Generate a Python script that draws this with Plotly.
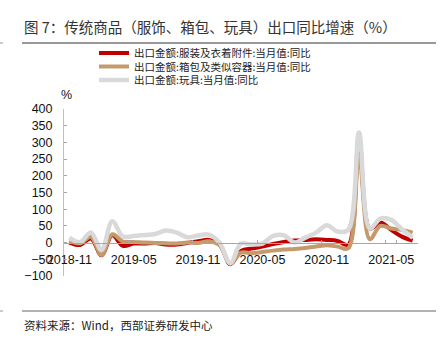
import plotly.graph_objects as go

months = ["2018-11", "2018-12", "2019-01", "2019-02", "2019-03", "2019-04", "2019-05",
          "2019-06", "2019-07", "2019-08", "2019-09", "2019-10", "2019-11", "2019-12",
          "2020-01", "2020-02", "2020-03", "2020-04", "2020-05", "2020-06", "2020-07",
          "2020-08", "2020-09", "2020-10", "2020-11", "2020-12", "2021-01", "2021-02",
          "2021-03", "2021-04", "2021-05", "2021-06", "2021-07"]

clothing = [0, -7, 12, -38, 22, -10, -3, -3, -1, -6, -6, -1, 4, 8, -5, -65, -25, -18, -12,
            -4, 2, 6, 8, 10, 8, 5, -6, 315, 42, 60, 38, 18, 6]
bags = [5, -2, 17, -37, 25, 3, 2, 0, -1, -2, -3, 0, -1, 4, -8, -63, -30, -32, -28, -24,
        -21, -19, -16, -12, -8, -12, -17, 258, 10, 50, 42, 38, 30]
toys = [15, 1, 30, -22, 64, 18, 20, 23, 26, 36, 30, 16, 21, 24, 0, -62, -3, -6, -3, 20,
        22, 0, 15, 30, 52, 33, 38, 330, 42, 72, 68, 40, 15]

names = ["出口金额:服装及衣着附件:当月值:同比",
         "出口金额:箱包及类似容器:当月值:同比",
         "出口金额:玩具:当月值:同比"]
colors = ["#C00000", "#C49A6C", "#D9D9D9"]

xticks = ["2018-11", "2019-05", "2019-11", "2020-05", "2020-11", "2021-05"]
yticks = list(range(-100, 401, 50))

W, H = 444, 351
L, R, T, B = 64, 26, 109, 75
pw, ph = W - L - R, H - T - B

def px(x):
    return (x - L) / pw

def py(y):
    return (H - B - y) / ph

CJK = "Noto Sans CJK SC"
fig = go.Figure()
series = [clothing, bags, toys]
legends = ["legend", "legend2", "legend3"]
widths = [4, 4, 4.5]
for s, n, c, lg, w in zip(series, names, colors, legends, widths):
    fig.add_trace(go.Scatter(x=months, y=s, name=n, mode="lines",
                             line=dict(color=c, width=w, shape="spline"),
                             legend=lg))

leg_common = dict(x=px(94), xanchor="left", yanchor="middle", bgcolor="rgba(0,0,0,0)",
                  borderwidth=0, font=dict(family=CJK, size=10.5, color="#222"))
row_y = [53, 66.5, 80]
fig.update_layout(
    width=W, height=H,
    margin=dict(l=L, r=R, t=T, b=B),
    paper_bgcolor="white", plot_bgcolor="white",
    showlegend=True,
    legend=dict(y=py(row_y[0]), **leg_common),
    legend2=dict(y=py(row_y[1]), **leg_common),
    legend3=dict(y=py(row_y[2]), **leg_common),
    xaxis=dict(type="category", range=[-0.5, 32.5], anchor="free", position=0.2,
               tickmode="array", tickvals=xticks, ticktext=xticks, tickson="boundaries",
               tickangle=0, ticks="inside", ticklen=3, tickcolor="#A6A6A6",
               showline=True, linecolor="#A6A6A6", linewidth=1.2,
               showgrid=False, zeroline=False, ticklabelstandoff=5,
               tickfont=dict(family="Liberation Sans", size=12.5, color="#111")),
    yaxis=dict(range=[-100, 400], tickvals=yticks, ticks="inside", ticklen=3,
               tickcolor="#A6A6A6", showline=True, linecolor="#BFBFBF", linewidth=1,
               showgrid=False, zeroline=False, ticklabelstandoff=8,
               tickfont=dict(family="Liberation Sans", size=12.5, color="#111")),
    annotations=[
        dict(text="图 7：传统商品（服饰、箱包、玩具）出口同比增速（%）", xref="paper", yref="paper",
             x=px(22), y=py(26), xanchor="left", yanchor="middle", showarrow=False,
             font=dict(family=CJK, size=14.5, color="#333")),
        dict(text="%", xref="paper", yref="paper", x=px(66), y=py(95), xanchor="center",
             yanchor="middle", showarrow=False,
             font=dict(family="Liberation Sans", size=12.5, color="#111")),
        dict(text="资料来源：Wind，西部证券研发中心", xref="paper", yref="paper",
             x=px(22), y=py(325), xanchor="left", yanchor="middle", showarrow=False,
             font=dict(family=CJK, size=11.5, color="#222")),
    ],
    shapes=[
        dict(type="line", xref="paper", yref="paper", x0=px(22), x1=px(436), y0=py(43), y1=py(43),
             line=dict(color="#999999", width=2)),
        dict(type="line", xref="paper", yref="paper", x0=px(22), x1=px(436), y0=py(311), y1=py(311),
             line=dict(color="#999999", width=1.5)),
        dict(type="line", xref="paper", yref="paper", x0=px(0), x1=px(3), y0=py(43), y1=py(43),
             line=dict(color="#999999", width=1)),
        dict(type="line", xref="paper", yref="paper", x0=px(0), x1=px(3), y0=py(311), y1=py(311),
             line=dict(color="#999999", width=1)),
    ],
)
fig.write_html("out.html")
